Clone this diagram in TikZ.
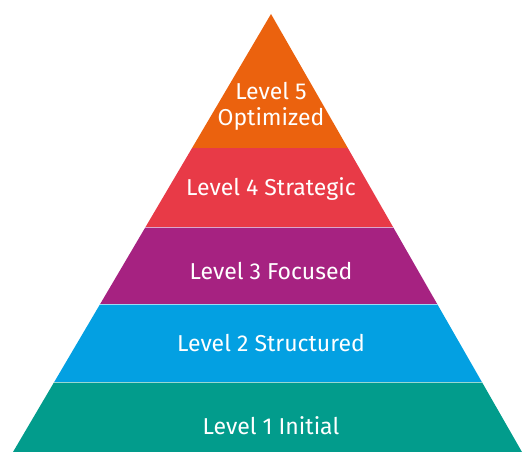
\documentclass[tikz,border=0pt]{standalone}
\usepackage{fontspec}
\setmainfont{Fira Sans}
\definecolor{nivelA}{HTML}{029C8C}
\definecolor{nivelB}{HTML}{03A0E2}
\definecolor{nivelC}{HTML}{A62281}
\definecolor{nivelD}{HTML}{E83A47}
\definecolor{nivelE}{HTML}{EB620E}
\tikzstyle{level}=[text=white, font=\fontsize{23}{26}\selectfont, align=center, inner sep=0pt]
\tikzstyle{sep}=[white, opacity=0.6, line width=0.9pt]

\begin{document}
\begin{tikzpicture}[x=1pt,y=-1pt]
            \useasboundingbox (0,0) rectangle (528,452);
            % Vértices
            \coordinate (apex) at (271,14);
            \coordinate (bl) at (13,452);
            \coordinate (br) at (522,452);
            % Franjas
            \begin{scope}
                \clip (apex) -- (br) -- (bl) -- cycle;
                \fill[nivelE] (0,0) rectangle (528,148);
                \fill[nivelD] (0,148) rectangle (528,227);
                \fill[nivelC] (0,227) rectangle (528,304);
                \fill[nivelB] (0,304) rectangle (528,382);
                \fill[nivelA] (0,382) rectangle (528,452);
                \foreach \y in {227,304,382}
                    \draw[sep] (0,\y) -- (528,\y);
            \end{scope}
            % Etiquetas
            \node[level] (l5) at (271,106) {Level 5\\Optimized};
            \node[level] (l4) at (271,189) {Level 4 Strategic};
            \node[level] (l3) at (271,271) {Level 3 Focused};
            \node[level] (l2) at (271,343) {Level 2 Structured};
            \node[level] (l1) at (271,426) {Level 1 Initial};
        \end{tikzpicture}
\end{document}
